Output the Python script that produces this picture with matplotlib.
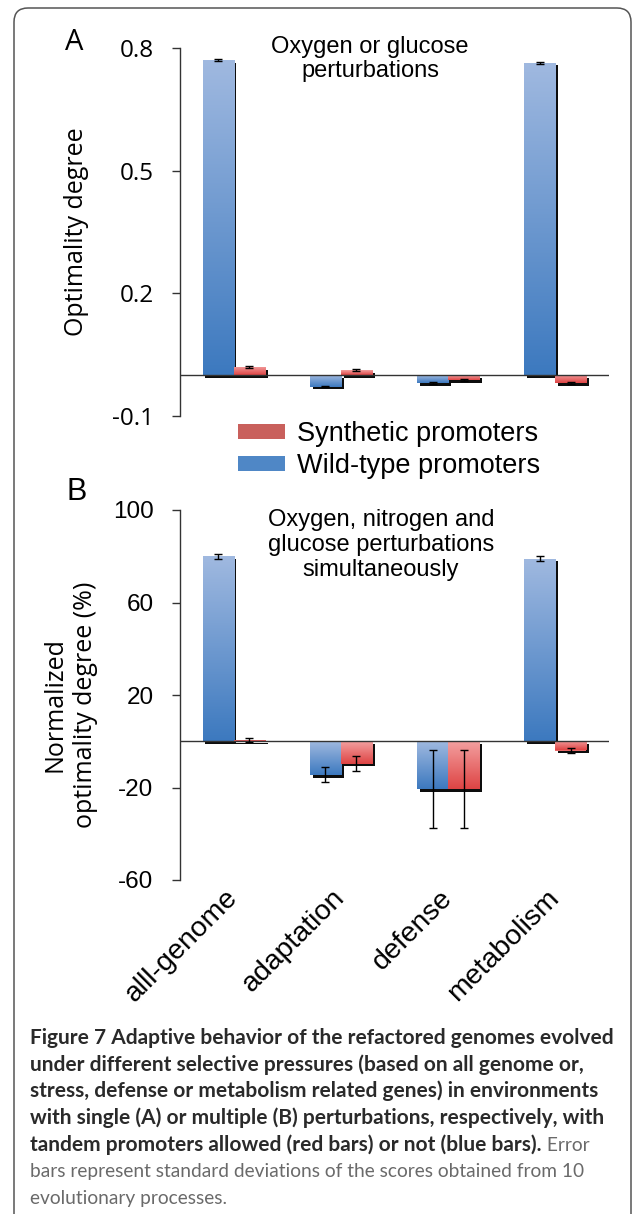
import numpy as np
import matplotlib
matplotlib.use("Agg")
import matplotlib.pyplot as plt
from matplotlib.patches import Patch, FancyBboxPatch
from matplotlib.colors import LinearSegmentedColormap
from matplotlib import patheffects as pe
from matplotlib.transforms import IdentityTransform

plt.rcParams["axes.unicode_minus"] = False

# ---------------- data ----------------
categories = ["alll-genome", "adaptation", "defense", "metabolism"]
series_names = ["Wild-type promoters", "Synthetic promoters"]

a_wild = [0.770, -0.028, -0.019, 0.764]
a_wild_err = [0.002, 0.002, 0.002, 0.002]
a_synth = [0.020, 0.012, -0.012, -0.020]
a_synth_err = [0.002, 0.002, 0.002, 0.002]
a_ticks = [-0.1, 0.2, 0.5, 0.8]
a_ticklabels = ["-0.1", "0.2", "0.5", "0.8"]

b_wild = [80.0, -14.5, -20.6, 79.0]
b_wild_err = [1.0, 3.3, 17.0, 1.2]
b_synth = [0.5, -9.7, -20.6, -4.0]
b_synth_err = [0.8, 3.2, 17.0, 1.0]
b_ticks = [-60, -20, 20, 60, 100]

W, H = 633, 1214
DPI = 100
fig = plt.figure(figsize=(W / DPI, H / DPI), dpi=DPI)
fig.patch.set_facecolor("white")

def px_axes(x0, y0, x1, y1):
    return fig.add_axes([x0 / W, 1 - y1 / H, (x1 - x0) / W, (y1 - y0) / H])

blue_cmap = LinearSegmentedColormap.from_list("b", ["#a0b9e0", "#3c79bf"])
red_cmap = LinearSegmentedColormap.from_list("r", ["#f3a0a0", "#de4444"])

grad = np.linspace(0, 1, 256).reshape(-1, 1)
bw = 0.29

def draw_panel(ax, wild, wild_err, synth, synth_err, ticks, ylim):
    x = np.arange(len(categories))
    for vals, errs, off, cmap, col in [(wild, wild_err, -bw / 2, blue_cmap, "#5a8bcb"),
                                        (synth, synth_err, bw / 2, red_cmap, "#e66666")]:
        bars = ax.bar(x + off, vals, width=bw, color=col, edgecolor="none", zorder=2)
        for p in bars.patches:
            p.set_path_effects([pe.SimplePatchShadow(offset=(2.0, -2.0), shadow_rgbFace="black", alpha=0.95),
                                pe.Normal()])
            bx, by = p.get_x(), p.get_y()
            bwid, bh = p.get_width(), p.get_height()
            y_lo, y_hi = min(by, by + bh), max(by, by + bh)
            im = ax.imshow(grad, extent=[bx, bx + bwid, y_lo, y_hi], aspect="auto",
                           cmap=cmap, origin="upper", zorder=2.5, interpolation="bilinear")
            im.set_clip_path(p)
        ax.errorbar(x + off, vals, yerr=errs, fmt="none", ecolor="black",
                    elinewidth=1.0, capsize=2.6, capthick=1.0, zorder=4)
    ax.axhline(0, color="#333333", lw=1.0, zorder=3)
    ax.set_xlim(-0.5, 3.5)
    ax.set_ylim(*ylim)
    ax.set_aspect("auto")
    for s in ["top", "right", "bottom"]:
        ax.spines[s].set_visible(False)
    ax.spines["left"].set_color("#333333")
    ax.spines["left"].set_linewidth(1.0)
    ax.set_yticks(ticks)
    ax.tick_params(axis="y", direction="out", length=6, width=1.0, color="#333333", pad=13)
    ax.set_facecolor("none")

# ---------------- Panel A ----------------
axA = px_axes(180, 48, 609, 416)
draw_panel(axA, a_wild, a_wild_err, a_synth, a_synth_err, a_ticks, (-0.1, 0.8))
axA.set_yticklabels(a_ticklabels, family="Open Sans", fontsize=17.5)
axA.set_xticks([])
fig.text(76.5 / W, 1 - 232 / H, "Optimality degree", rotation=90, ha="center", va="center",
         fontsize=18, family="Open Sans")
fig.text(74.5 / W, 1 - 42.5 / H, "A", ha="center", va="center", fontsize=21, family="Open Sans")
fig.text(370 / W, 1 - 59 / H, "Oxygen or glucose\nperturbations", ha="center", va="center",
         fontsize=17, family="Liberation Sans", linespacing=1.15)

# ---------------- legend ----------------
handles = [Patch(facecolor="#c9605c", edgecolor="none"), Patch(facecolor="#4f87c6", edgecolor="none")]
leg = fig.legend(handles, [series_names[1], series_names[0]], loc="upper left",
                 bbox_to_anchor=(238 / W, 1 - 421 / H), frameon=False, borderpad=0,
                 borderaxespad=0, handlelength=1.74, handleheight=0.5, handletextpad=0.45,
                 labelspacing=0.22, prop={"family": "Liberation Sans", "size": 19.5})

# ---------------- Panel B ----------------
axB = px_axes(180, 510, 609, 880)
draw_panel(axB, b_wild, b_wild_err, b_synth, b_synth_err, b_ticks, (-60, 100))
axB.set_yticklabels([str(t) for t in b_ticks], family="Liberation Sans", fontsize=17.5)
axB.set_xticks(np.arange(len(categories)))
axB.set_xticklabels(categories, rotation=45, ha="right", va="center", rotation_mode="anchor",
                    family="Liberation Sans", fontsize=20.5)
axB.tick_params(axis="x", length=0, pad=10)
fig.text(70.5 / W, 1 - 705 / H, "Normalized\noptimality degree (%)", rotation=90, ha="center",
         va="center", multialignment="center", fontsize=18, family="Open Sans", linespacing=1.3)
fig.text(76.5 / W, 1 - 491.5 / H, "B", ha="center", va="center", fontsize=22, family="Liberation Sans")
fig.text(381 / W, 1 - 545 / H, "Oxygen, nitrogen and\nglucose perturbations\nsimultaneously",
         ha="center", va="center", fontsize=17, family="Liberation Sans", linespacing=1.15)

# ---------------- caption ----------------
bold_lines = [
    "Figure 7 Adaptive behavior of the refactored genomes evolved",
    "under different selective pressures (based on all genome or,",
    "stress, defense or metabolism related genes) in environments",
    "with single (A) or multiple (B) perturbations, respectively, with",
    "tandem promoters allowed (red bars) or not (blue bars).",
]
reg_lines = [
    "bars represent standard deviations of the scores obtained from 10",
    "evolutionary processes.",
]
bold_fs = 15.0
reg_fs = 13.8
y0 = 1044
step = 26.7
last = None
for i, line in enumerate(bold_lines):
    last = fig.text(30 / W, 1 - (y0 + i * step) / H, line, ha="left", va="baseline",
                    fontsize=bold_fs, family="Lato", weight="bold", color="#2a2a2a")
fig.canvas.draw()
ext = last.get_window_extent()
base_y = (1 - (y0 + 4 * step) / H) * H
fig.text(ext.x1, base_y, " Error", transform=IdentityTransform(), ha="left", va="baseline",
         fontsize=reg_fs, family="Lato", color="#6a6a6a")
for j, line in enumerate(reg_lines):
    fig.text(30 / W, 1 - (y0 + (5 + j) * step) / H, line, ha="left", va="baseline",
             fontsize=reg_fs, family="Lato", color="#6a6a6a")

# ---------------- frame ----------------
frame = FancyBboxPatch((14, -30), 631 - 14, (H - 8) + 30, boxstyle="round,pad=0,rounding_size=14",
                       transform=IdentityTransform(), facecolor="none", edgecolor="#555555",
                       lw=1.1, zorder=0)
fig.patches.append(frame)

fig.savefig("out.png", dpi=DPI)
